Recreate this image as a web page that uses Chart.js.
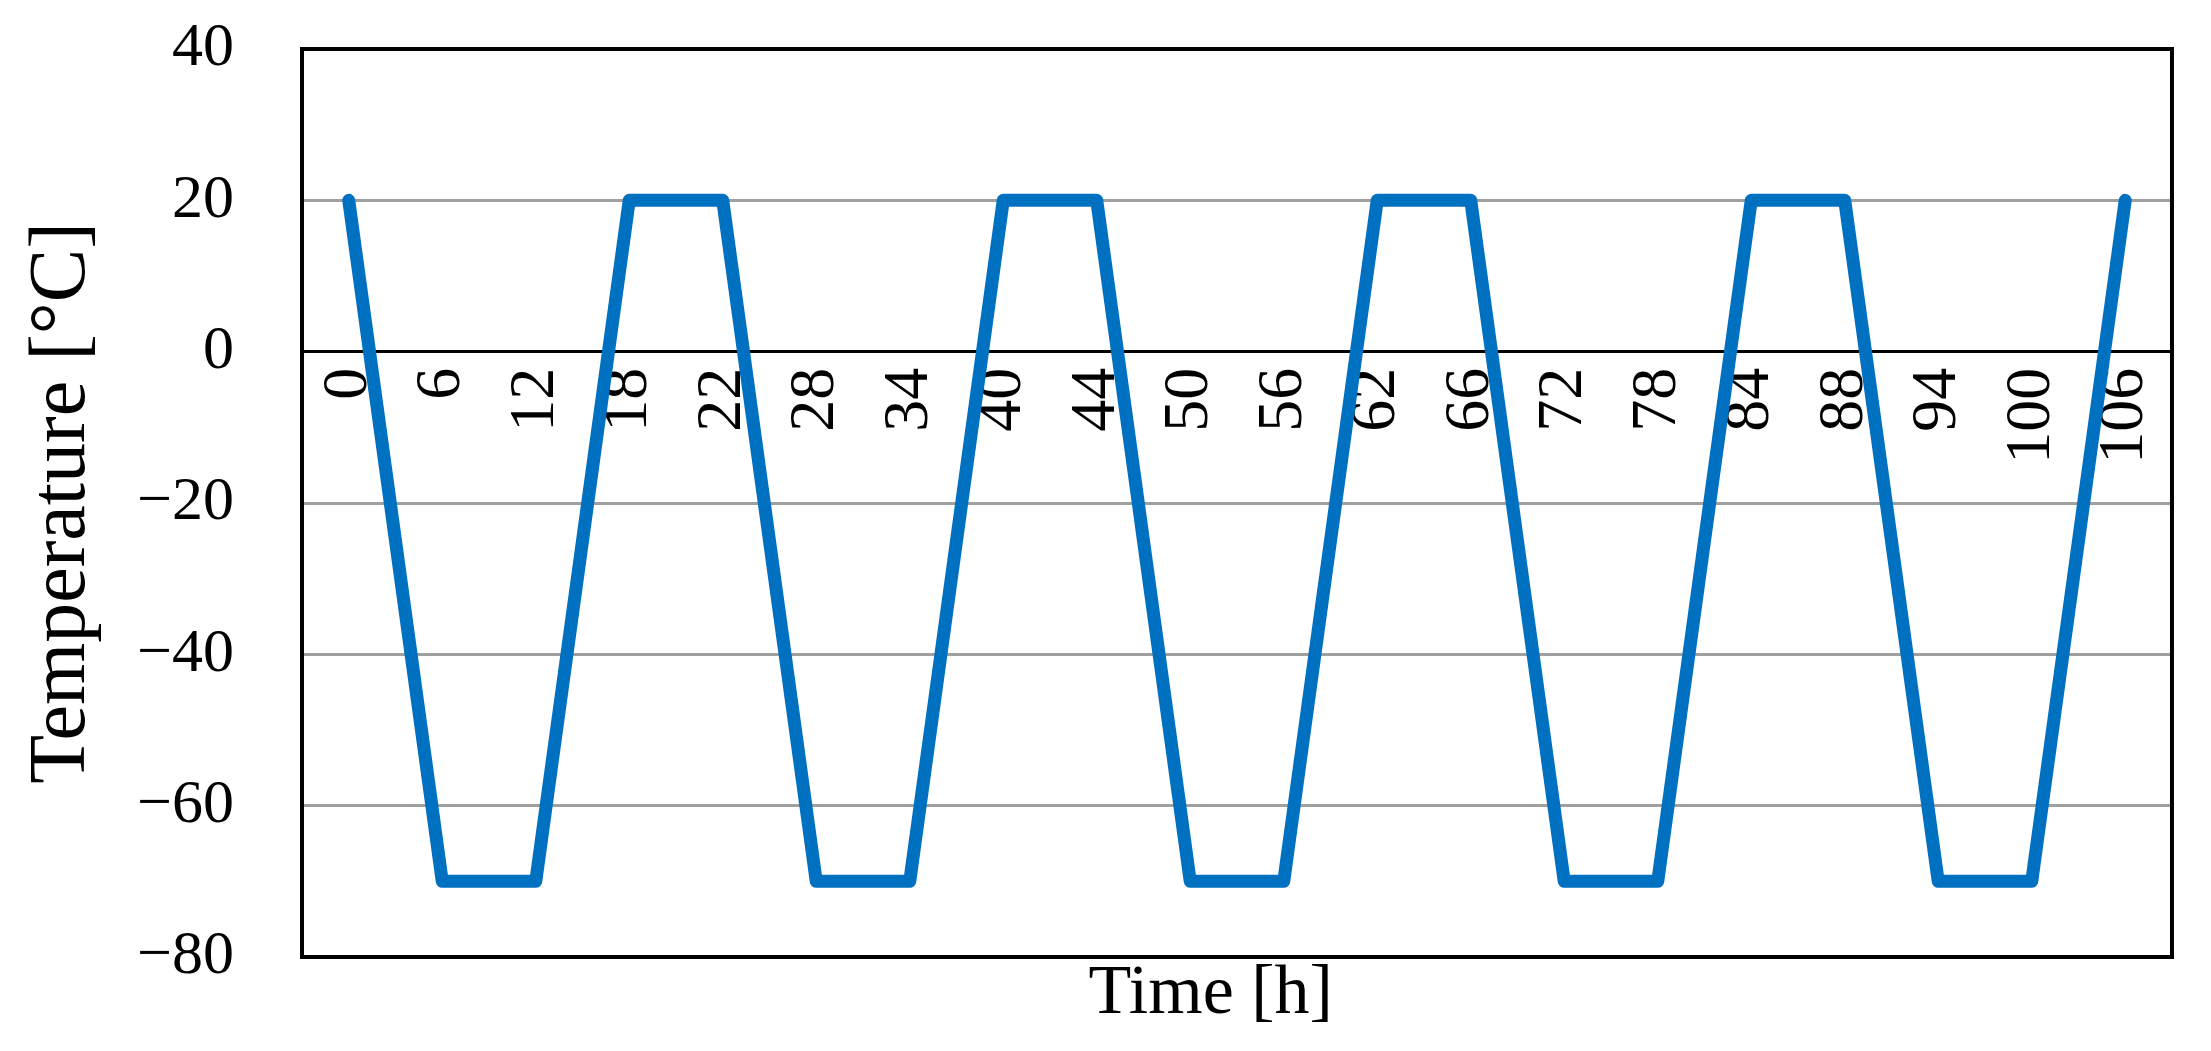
<!DOCTYPE html>
<html>
<head>
<meta charset="utf-8">
<script src="https://cdn.jsdelivr.net/npm/chart.js@4.4.1/dist/chart.umd.min.js"></script>
<style>
    html, body { margin: 0; padding: 0; background: #fff; }
    #wrap { width: 2211px; height: 1051px; }
</style>
</head>
<body>
<div id="wrap"><canvas id="myChart"></canvas></div>
<script>
const hours = ['0', '6', '12', '18', '22', '28', '34', '40', '44', '50',
    '56', '62', '66', '72', '78', '84', '88', '94', '100', '106'];
const temps = [20, -70, -70, 20, 20, -70, -70, 20, 20, -70,
    -70, 20, 20, -70, -70, 20, 20, -70, -70, 20];
const yMin = -80;
const yMax = 40;
const yStep = 20;

const serif = 'Liberation Serif';

// black box round the plot area
const frame = {
    id: 'frame',
    afterDraw(chart) {
        const a = chart.chartArea;
        const ctx = chart.ctx;
        ctx.save();
        ctx.strokeStyle = '#000';
        ctx.lineWidth = 4;
        ctx.strokeRect(a.left, a.top, a.right - a.left, a.bottom - a.top);
        ctx.restore();
    }
};

function buildGraphic() {
    const ctx = document.getElementById('myChart').getContext('2d');

    const data = {
        labels: hours,
        datasets: [{
            label: 'Temperature',
            data: temps,
            borderColor: '#0070C0',
            borderWidth: 13,
            borderCapStyle: 'round',
            borderJoinStyle: 'round',
            pointRadius: 0,
            tension: 0,
            fill: false
        }]
    };

    const config = {
        type: 'line',
        data: data,
        plugins: [frame],
        options: {
            responsive: true,
            maintainAspectRatio: false,
            animation: false,
            devicePixelRatio: 1,
            layout: {
                padding: { left: 10, right: 36, top: 49, bottom: 0 }
            },
            plugins: {
                legend: { display: false },
                tooltip: { enabled: false }
            },
            scales: {
                x: {
                    type: 'category',
                    offset: true,
                    grid: { display: false },
                    border: { display: false },
                    ticks: { display: false },
                    title: {
                        display: true,
                        text: 'Time [h]\u00a0\u00a0\u00a0',
                        color: '#000',
                        font: { family: serif, size: 70 },
                        padding: { top: 0, bottom: 14 }
                    },
                    afterFit: function (scale) {
                        scale.height = 94;
                    }
                },
                x0: {
                    type: 'category',
                    position: { y: 0 },
                    offset: true,
                    grid: { display: false },
                    border: { display: false },
                    ticks: {
                        color: '#000',
                        font: { family: serif, size: 64 },
                        minRotation: 90,
                        maxRotation: 90,
                        autoSkip: false,
                        padding: 8
                    },
                    afterFit: function (scale) {
                        scale.height = 0;
                    }
                },
                y: {
                    min: yMin,
                    max: yMax,
                    border: { display: false },
                    grid: {
                        drawTicks: true,
                        tickLength: 66,
                        tickColor: 'rgba(0,0,0,0)',
                        color: function (c) {
                            return c.tick && c.tick.value === 0 ? '#000' : '#a0a0a0';
                        },
                        lineWidth: 3
                    },
                    ticks: {
                        stepSize: yStep,
                        color: '#000',
                        padding: 2,
                        font: { family: serif, size: 62 },
                        callback: function (v) {
                            return String(v).replace('-', '\u2212');
                        }
                    },
                    title: {
                        display: true,
                        text: 'Temperature [°C]',
                        color: '#000',
                        font: { family: serif, size: 80 },
                        padding: { top: 5, bottom: 0 }
                    },
                    afterFit: function (scale) {
                        scale.width = 292;
                    }
                }
            }
        }
    };

    const myChart = new Chart(ctx, config);
}

buildGraphic();
</script>
</body>
</html>
